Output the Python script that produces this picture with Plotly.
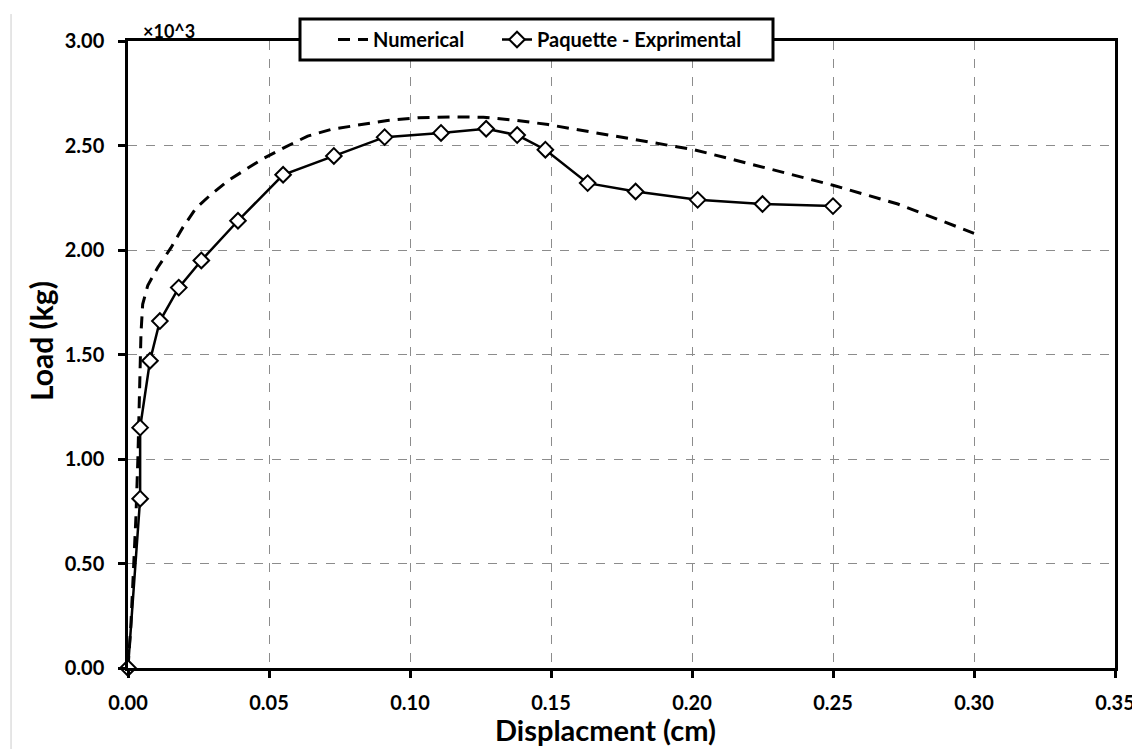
import plotly.graph_objects as go

# Numerical curve (displacement cm, load x10^3 kg)
num_x = [0, 0.0010, 0.0017, 0.0028, 0.0035, 0.0040, 0.0046, 0.0052, 0.0070, 0.0105,
         0.0152, 0.0194, 0.0241, 0.0288, 0.0353, 0.0418, 0.0483, 0.0554, 0.0637, 0.072,
         0.0826, 0.092, 0.1027, 0.115, 0.126, 0.138, 0.149, 0.168, 0.2007, 0.227,
         0.250, 0.273, 0.300]
num_y = [0, 0.20, 0.40, 0.72, 1.00, 1.22, 1.60, 1.74, 1.83, 1.915,
         2.01, 2.107, 2.20, 2.258, 2.33, 2.386, 2.44, 2.49, 2.545, 2.577,
         2.60, 2.62, 2.633, 2.637, 2.635, 2.62, 2.60, 2.555, 2.48, 2.39,
         2.31, 2.22, 2.08]

# Paquette experimental
exp_x = [0, 0.0043, 0.0043, 0.0078, 0.0113, 0.018, 0.026, 0.039, 0.055, 0.073,
         0.091, 0.111, 0.127, 0.138, 0.148, 0.163, 0.180, 0.202, 0.225, 0.250]
exp_y = [0, 0.81, 1.15, 1.47, 1.66, 1.82, 1.95, 2.14, 2.36, 2.45,
         2.54, 2.56, 2.58, 2.55, 2.48, 2.32, 2.28, 2.24, 2.22, 2.21]

x_ticks = [0, 0.05, 0.10, 0.15, 0.20, 0.25, 0.30, 0.35]
y_ticks = [0, 0.5, 1.0, 1.5, 2.0, 2.5, 3.0]

FONT = "Lato"

fig = go.Figure()
fig.add_trace(go.Scatter(
    x=num_x, y=num_y, mode="lines", name="Numerical",
    line=dict(color="black", width=3, dash="12px,8px"),
    legend="legend",
))
fig.add_trace(go.Scatter(
    x=exp_x, y=exp_y, mode="lines+markers", name="Paquette - Exprimental",
    line=dict(color="black", width=2.5),
    marker=dict(symbol="diamond", size=12, color="white",
                line=dict(color="black", width=2)),
    cliponaxis=False,
    legend="legend2",
))

axis_common = dict(
    showline=True, linecolor="black", linewidth=2.5, mirror=True,
    ticks="outside", ticklen=7, tickwidth=2.5, tickcolor="black",
    showgrid=True, gridcolor="#8c8c8c", gridwidth=1, griddash="dash",
    zeroline=False,
    tickfont=dict(family=FONT, size=20, color="black", weight="bold"),
)

fig.update_xaxes(range=[0, 0.35], tickvals=x_ticks, tickformat=".2f",
                 ticklabelstandoff=8, **axis_common)
fig.update_yaxes(range=[0, 3.0], tickvals=y_ticks, tickformat=".2f",
                 ticklabelstandoff=10, **axis_common)

# axis titles
fig.add_annotation(
    text="Displacment (cm)", xref="paper", yref="paper",
    x=(604 - 127) / 987, y=(667 - 728) / 627, xanchor="center", yanchor="middle",
    showarrow=False,
    font=dict(family=FONT, size=29, color="black", weight="bold"),
)
fig.add_annotation(
    text="Load (kg)", xref="paper", yref="paper",
    x=(40 - 127) / 987, y=(667 - 340) / 627, xanchor="center", yanchor="middle",
    textangle=-90, showarrow=False,
    font=dict(family=FONT, size=30, color="black", weight="bold"),
)

fig.add_annotation(
    text="×10^3", xref="paper", yref="paper", x=0.0, y=1.0,
    xanchor="left", yanchor="bottom", showarrow=False, yshift=-3, xshift=13,
    font=dict(family=FONT, size=18, color="black", weight="bold"),
)

# legend frame (white box over the top axis line)
fig.add_shape(type="rect", xref="paper", yref="paper", layer="above",
              x0=(299 - 127) / 987, x1=(772 - 127) / 987,
              y0=(667 - 59) / 627, y1=(667 - 18) / 627,
              fillcolor="white", line=dict(color="black", width=3))

# faint vertical border line at left edge of the image
fig.add_shape(type="line", xref="paper", yref="paper",
              x0=-0.1185, x1=-0.1185, y0=1.043, y1=-0.131,
              line=dict(color="#cccccc", width=1))

legend_common = dict(
    orientation="h", xanchor="left", yref="paper", y=(667 - 38.5) / 627,
    yanchor="middle", bgcolor="rgba(0,0,0,0)", borderwidth=0,
    font=dict(family=FONT, size=20, color="black", weight="bold"),
    itemwidth=30,
)

fig.update_layout(
    width=1140, height=749,
    margin=dict(l=120, r=33, t=33, b=89, autoexpand=False),
    paper_bgcolor="white", plot_bgcolor="white",
    showlegend=True,
    legend=dict(x=(332 - 127) / 987, **legend_common),
    legend2=dict(x=(496 - 127) / 987, **legend_common),
)

fig.write_html("out.html")
